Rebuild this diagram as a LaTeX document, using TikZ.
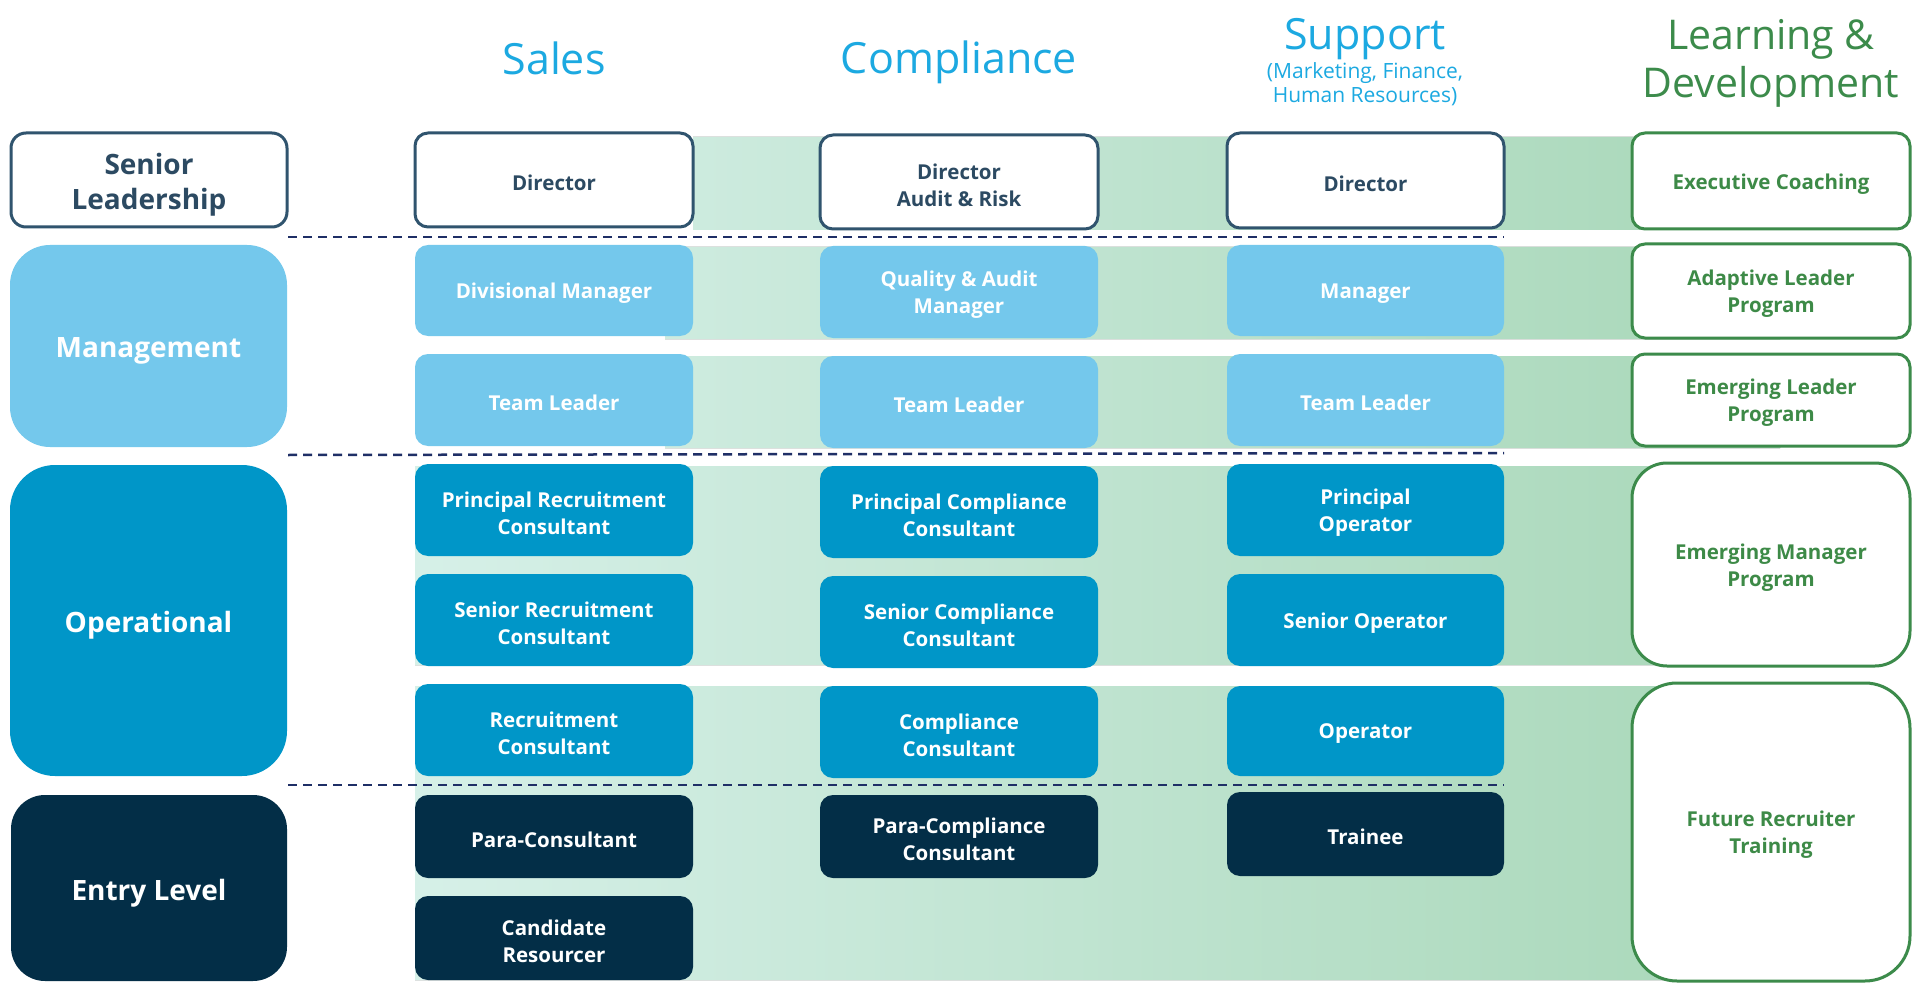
\documentclass[tikz,border=0pt]{standalone}
\usepackage{fontspec}
\setmainfont{Open Sans}
\definecolor{slate}{RGB}{48,84,110}
\definecolor{slatetext}{RGB}{44,74,98}
\definecolor{mgmtblue}{RGB}{116,200,236}
\definecolor{operblue}{RGB}{0,150,200}
\definecolor{navy}{RGB}{3,46,71}
\definecolor{ldgreen}{RGB}{60,139,75}
\definecolor{ldtext}{RGB}{61,138,71}
\definecolor{headblue}{RGB}{28,169,225}
\definecolor{bandleft}{RGB}{214,240,232}
\definecolor{bandright}{RGB}{168,215,184}
\definecolor{dashnavy}{RGB}{31,47,102}
\tikzset{
  cell/.style={rectangle, rounded corners=13pt, inner sep=0pt},
  dirbox/.style={cell, fill=white, draw=slate, line width=3pt},
  mgmt/.style={cell, fill=mgmtblue},
  oper/.style={cell, fill=operblue},
  entry/.style={cell, fill=navy},
  ldbox/.style={cell, fill=white, draw=ldgreen, line width=3pt},
  txt/.style={align=center, inner sep=0pt, font=\fontsize{20.5}{27}\selectfont\bfseries},
  darktxt/.style={txt, text=slatetext},
  whitetxt/.style={txt, text=white},
  greentxt/.style={txt, text=ldtext},
  cattxt/.style={font=\fontsize{28}{35}\selectfont\bfseries},
  head/.style={align=center, inner sep=0pt, text=headblue, font=\fontsize{43}{50}\selectfont},
  levelline/.style={dashnavy, line width=2.5pt, dash pattern=on 9pt off 6pt},
}
% box style, text style, name, x, y, width, height, text
\newcommand{\mkcell}[8]{%
  \node[#1, minimum width=#6pt, minimum height=#7pt] (#3) at (#4,#5) {};
  \node[#2] (#3t) at ([yshift=-3pt]#3.center) {#8};}
\begin{document}
\begin{tikzpicture}[x=1pt,y=-1pt]
\useasboundingbox[fill=white] (0,0) rectangle (1920,1003);
% background bands
\fill[left color=bandleft, right color=bandright]
  (415,466) rectangle (1780,665)
  (415,686) rectangle (1780,980)
  (693,137) rectangle (1780,230)
  (665,247) rectangle (1780,339)
  (665,356) rectangle (1780,448);
% headers
\node[head] (hs) at (554,58) {Sales};
\node[head] (hc) at (959,62) {Compliance};
\node[head] (hp) at (1365,39) {Support};
\node[head, font=\fontsize{21}{24}\selectfont] (hp2) at (1365,84) {(Marketing, Finance,\\Human Resources)};
\node[head, text=ldgreen, font=\fontsize{41}{48}\selectfont] (hl) at (1771,63) {Learning \&\\Development};
% category column
\node[dirbox, minimum width=276pt, minimum height=94pt, rounded corners=15pt] (cat1) at (149,180) {};
\node[darktxt, cattxt] (cat1t) at ([yshift=-4.5pt]cat1.center) {Senior\\Leadership};
\node[mgmt, minimum width=277pt, minimum height=202pt, rounded corners=40pt] (cat2) at (148.5,346) {};
\node[whitetxt, cattxt] (cat2t) at ([yshift=-5pt]cat2.center) {Management};
\node[oper, minimum width=277pt, minimum height=311pt, rounded corners=45pt] (cat3) at (148.5,620.5) {};
\node[whitetxt, cattxt] (cat3t) at ([yshift=-5pt]cat3.center) {Operational};
\node[entry, minimum width=276pt, minimum height=186pt, rounded corners=34pt] (cat4) at (149,888) {};
\node[whitetxt, cattxt] (cat4t) at ([yshift=-5pt]cat4.center) {Entry Level};
% sales column
\mkcell{dirbox}{darktxt}{s1}{554}{180}{278}{94}{Director}
\mkcell{mgmt}{whitetxt}{s2}{554}{290.5}{278}{91}{Divisional Manager}
\mkcell{mgmt}{whitetxt}{s3}{554}{400}{278}{92}{Team Leader}
\mkcell{oper}{whitetxt}{s4}{554}{510}{278}{92}{Principal Recruitment\\Consultant}
\mkcell{oper}{whitetxt}{s5}{554}{620}{278}{92}{Senior Recruitment\\Consultant}
\mkcell{oper}{whitetxt}{s6}{554}{730}{278}{92}{Recruitment\\Consultant}
\mkcell{entry}{whitetxt}{s7}{554}{836.5}{278}{83}{Para-Consultant}
\mkcell{entry}{whitetxt}{s8}{554}{938}{278}{84}{Candidate\\Resourcer}
% compliance column
\mkcell{dirbox}{darktxt}{c1}{959}{182}{278}{94}{Director\\Audit \& Risk}
\mkcell{mgmt}{whitetxt}{c2}{959}{292}{278}{92}{Quality \& Audit\\Manager}
\mkcell{mgmt}{whitetxt}{c3}{959}{402}{278}{92}{Team Leader}
\mkcell{oper}{whitetxt}{c4}{959}{512}{278}{92}{Principal Compliance\\Consultant}
\mkcell{oper}{whitetxt}{c5}{959}{622}{278}{92}{Senior Compliance\\Consultant}
\mkcell{oper}{whitetxt}{c6}{959}{732}{278}{92}{Compliance\\Consultant}
\mkcell{entry}{whitetxt}{c7}{959}{836.5}{278}{83}{Para-Compliance\\Consultant}
% support column
\mkcell{dirbox}{darktxt}{p1}{1365.5}{180.5}{277}{95}{Director}
\mkcell{mgmt}{whitetxt}{p2}{1365.5}{290.5}{277}{91}{Manager}
\mkcell{mgmt}{whitetxt}{p3}{1365.5}{400}{277}{92}{Team Leader}
\mkcell{oper}{whitetxt}{p4}{1365.5}{510}{277}{92}{Principal\\Operator}
\mkcell{oper}{whitetxt}{p5}{1365.5}{620}{277}{92}{Senior Operator}
\mkcell{oper}{whitetxt}{p6}{1365.5}{731}{277}{90}{Operator}
\mkcell{entry}{whitetxt}{p7}{1365.5}{834}{277}{84}{Trainee}
% learning & development column
\mkcell{ldbox}{greentxt}{l1}{1771}{181}{278}{96}{Executive Coaching}
\mkcell{ldbox}{greentxt}{l2}{1771}{291}{278}{94}{Adaptive Leader\\Program}
\mkcell{ldbox}{greentxt}{l3}{1771}{400}{278}{92}{Emerging Leader\\Program}
\mkcell{ldbox, rounded corners=35pt}{greentxt}{l4}{1771}{564.5}{278}{203}{Emerging Manager\\Program}
\mkcell{ldbox, rounded corners=45pt}{greentxt}{l5}{1771}{832}{278}{298}{Future Recruiter\\Training}
% level separators
\coordinate (d1a) at (288,237); \coordinate (d1b) at (1504,237);
\coordinate (d2a) at (288,455); \coordinate (d2b) at (1504,453);
\coordinate (d3a) at (288,785); \coordinate (d3b) at (1504,785);
\draw[levelline] (d1a) -- (d1b);
\draw[levelline] (d2a) -- (d2b);
\draw[levelline] (d3a) -- (d3b);
\end{tikzpicture}
\end{document}
